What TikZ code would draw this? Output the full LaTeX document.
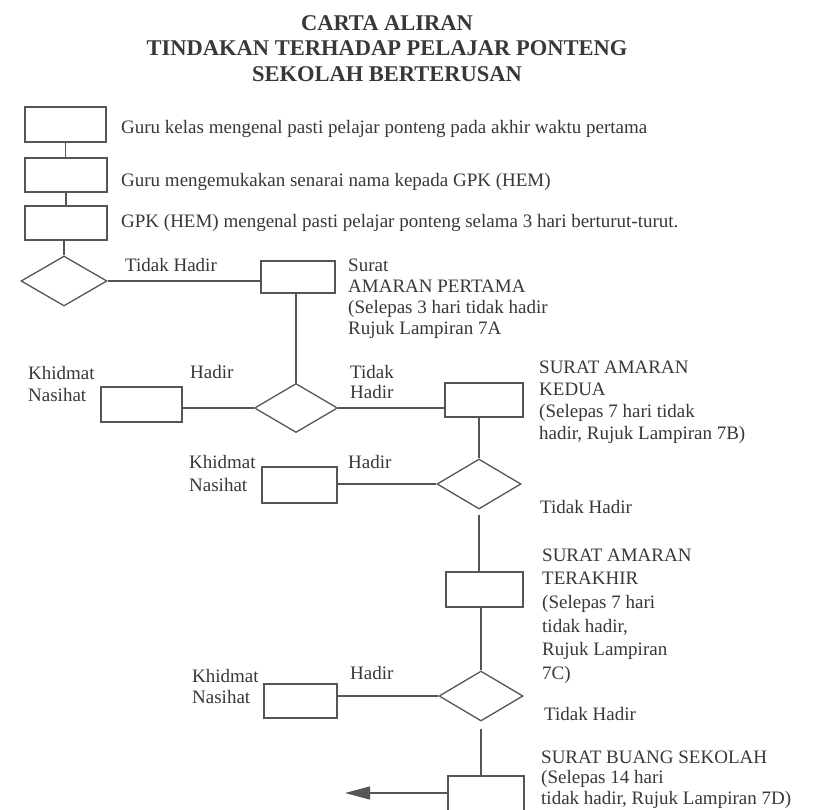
\documentclass[tikz,border=0pt]{standalone}
\usepackage{fontspec}
\setmainfont{Liberation Serif}
\usetikzlibrary{shapes.geometric,arrows.meta}
\definecolor{ink}{HTML}{383838}
\definecolor{linec}{HTML}{555555}
\begin{document}
\begin{tikzpicture}[x=1pt,y=1pt,
  box/.style={draw=linec, line width=1.3pt, rectangle, inner sep=0pt},
  dia/.style={draw=linec, line width=1.3pt, diamond, inner sep=0pt},
  conn/.style={draw=linec, line width=1.3pt},
  lbl/.style={text=ink, inner sep=0pt, anchor=base west, font=\fontsize{19}{22}\selectfont},
  blk/.style={text=ink, inner sep=0pt, anchor=north west, align=left, font=\fontsize{19}{#1}\selectfont},
  ttl/.style={text=ink, inner sep=0pt, anchor=north, align=center, font=\bfseries\fontsize{22.5}{25.5}\selectfont}]
\useasboundingbox (0,0) rectangle (813,-809);
\clip (0,0) rectangle (813,-809);
\fill[white] (0,0) rectangle (813,-809);

% title
\node[ttl] (title) at (387,-15) {CARTA ALIRAN\\TINDAKAN TERHADAP PELAJAR PONTENG\\SEKOLAH BERTERUSAN};

% boxes and diamonds
\node[box, minimum width=81pt, minimum height=35pt] (b1) at (65.5,-124.5) {};
\node[box, minimum width=82pt, minimum height=34pt] (b2) at (66,-175) {};
\node[box, minimum width=82pt, minimum height=34pt] (b3) at (66,-223) {};
\node[dia, minimum width=86pt, minimum height=50pt] (d1) at (64,-281) {};
\node[box, minimum width=74pt, minimum height=32pt] (p1) at (298,-277) {};
\node[dia, minimum width=83pt, minimum height=49pt] (d2) at (296,-408) {};
\node[box, minimum width=81pt, minimum height=35pt] (k1) at (141.5,-404.5) {};
\node[box, minimum width=78pt, minimum height=34pt] (p2) at (484,-400) {};
\node[dia, minimum width=84pt, minimum height=50pt] (d3) at (479,-484) {};
\node[box, minimum width=75pt, minimum height=36pt] (k2) at (299.5,-485) {};
\node[box, minimum width=77pt, minimum height=35pt] (p3) at (484.5,-589.5) {};
\node[dia, minimum width=84pt, minimum height=50pt] (d4) at (481,-696) {};
\node[box, minimum width=73pt, minimum height=34pt] (k3) at (300.5,-701) {};
\node[box, minimum width=76pt, minimum height=38pt] (p4) at (486,-795) {};
\coordinate (tip) at (345,-793);

% connectors
\draw[conn] (b1.south) -- (b1.south |- b2.north);
\draw[conn] (b2.south) -- (b2.south |- b3.north);
\draw[conn] (b3.south -| d1.north) -- (d1.north);
\draw[conn] (d1.east) -- (d1.east -| p1.west);
\draw[conn] (p1.south -| d2.north) -- (d2.north);
\draw[conn] (k1.east |- d2.west) -- (d2.west);
\draw[conn] (d2.east) -- (d2.east -| p2.west);
\draw[conn] (p2.south -| d3.north) -- (d3.north);
\draw[conn] (k2.east |- d3.west) -- (d3.west);
\draw[conn] ([yshift=-5pt]d3.south) -- (p3.north -| d3.south);
\draw[conn] (p3.south -| d4.north) -- (d4.north);
\draw[conn] (k3.east |- d4.west) -- (d4.west);
\draw[conn] ([yshift=-7pt]d4.south) -- (p4.north -| d4.south);
\draw[conn, -{Triangle[length=25pt,width=13pt]}] (p4.west |- tip) -- (tip);

% texts beside the top boxes
\node[lbl] (t1) at (121,-133.5) {Guru kelas mengenal pasti pelajar ponteng pada akhir waktu pertama};
\node[lbl] (t2) at (121,-186) {Guru mengemukakan senarai nama kepada GPK (HEM)};
\node[lbl] (t3) at (121,-227) {GPK (HEM) mengenal pasti pelajar ponteng selama 3 hari berturut-turut.};

% branch labels
\node[lbl] (l1) at (125,-271.5) {Tidak Hadir};
\node[lbl] (h1) at (190,-378.5) {Hadir};
\node[blk=20] (l2) at (350,-365.5) {Tidak\\Hadir};
\node[lbl] (h2) at (348,-468.5) {Hadir};
\node[lbl] (l3) at (540,-513.5) {Tidak Hadir};
\node[lbl] (h3) at (350,-679.5) {Hadir};
\node[lbl] (l4) at (544,-720.5) {Tidak Hadir};

% Khidmat Nasihat
\node[blk=22] (kn1) at (28,-366.5) {Khidmat\\Nasihat};
\node[blk=23] (kn2) at (189,-455.5) {Khidmat\\Nasihat};
\node[blk=21.5] (kn3) at (192,-669) {Khidmat\\Nasihat};

% letter descriptions
\node[blk=21] (s1) at (348,-258.5) {Surat\\AMARAN PERTAMA\\(Selepas 3 hari tidak hadir\\Rujuk Lampiran 7A};
\node[blk=22] (s2) at (539,-360.5) {SURAT AMARAN\\KEDUA\\(Selepas 7 hari tidak\\hadir, Rujuk Lampiran 7B)};
\node[blk=23.6] (s3) at (542,-548.5) {SURAT AMARAN\\TERAKHIR\\(Selepas 7 hari\\tidak hadir,\\Rujuk Lampiran\\7C)};
\node[blk=20.5] (s4) at (541,-750.5) {SURAT BUANG SEKOLAH\\(Selepas 14 hari\\tidak hadir, Rujuk Lampiran 7D)};
\end{tikzpicture}
\end{document}
